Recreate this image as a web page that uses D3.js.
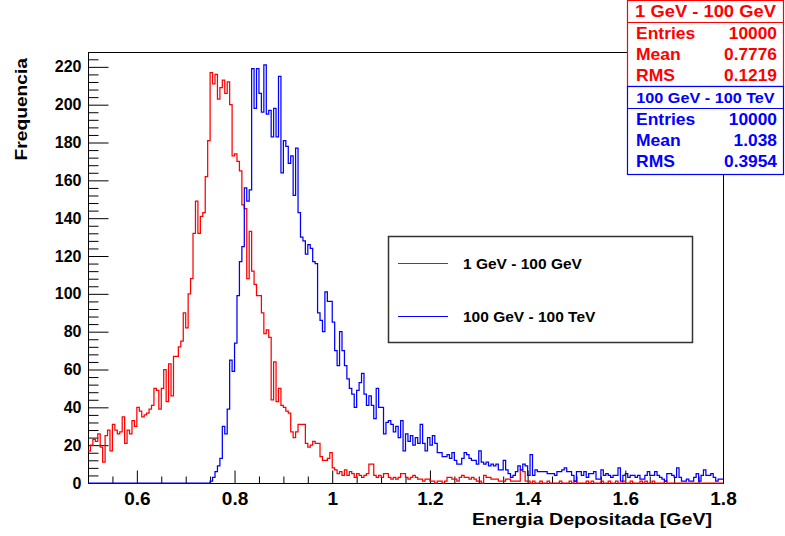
<!DOCTYPE html>
<html>
<head>
<meta charset="utf-8">
<script src="https://cdn.jsdelivr.net/npm/d3@7"></script>
<style>
  html, body { margin: 0; padding: 0; background: #fff; }
  svg { display: block; font-family: "Liberation Sans", Arial, Helvetica, sans-serif; font-weight: bold; }
</style>
</head>
<body>
<svg id="chart" width="785" height="536"></svg>
<script>
// Histogram binning: 260 bins of 0.005 GeV between 0.5 and 1.8 GeV
const xRange = [0.5, 1.8];
const binWidth = 0.005;
const yMax = 227.85;

const xTickValues = [0.6, 0.8, 1.0, 1.2, 1.4, 1.6, 1.8];
const xTickLabels = ["0.6", "0.8", "1", "1.2", "1.4", "1.6", "1.8"];
const yTickValues = [0, 20, 40, 60, 80, 100, 120, 140, 160, 180, 200, 220];

const seriesNames = ["1 GeV - 100 GeV", "100 GeV - 100 TeV"];
const seriesColors = ["#ff0000", "#0000ff"];

// Counts per bin, 1 GeV - 100 GeV sample
const redCounts = [
  17,20,23,22,26,19,11,25,28,17,31,28,26,27,35,21,28,26,33,30,
  40,38,35,36,37,39,41,50,49,39,50,60,43,63,46,67,67,72,75,90,
  82,100,108,132,149,132,141,143,162,181,217,211,216,203,209,213,206,212,200,173,
  174,170,165,147,145,108,133,112,105,99,99,90,79,81,77,44,64,43,50,41,
  40,38,37,27,24,27,31,31,31,21,19,20,22,21,21,14,12,12,13,16,
  8,7,5,6,4,7,4,6,5,3,5,4,3,4,5,10,10,4,3,4,
  3,5,5,3,2,3,2,3,5,5,3,2,3,4,3,2,2,1,2,2,
  1,1,0,1,1,0,1,3,3,2,2,1,3,4,3,3,2,3,2,1,
  1,0,4,3,3,2,2,2,1,1,1,2,2,1,1,1,1,7,6,1,
  1,0,1,0,0,1,0,0,1,0,0,0,0,1,0,0,0,1,0,1,
  0,0,0,0,1,0,1,0,0,0,1,0,0,1,0,0,1,0,0,1,
  0,0,1,0,0,0,1,0,1,0,0,1,0,0,0,0,1,0,0,0,
  0,0,0,0,0,0,0,0,0,0,0,0,0,0,0,0,0,0,0,0
];

// Counts per bin, 100 GeV - 100 TeV sample
const blueCounts = [
  0,0,0,0,0,0,0,0,0,0,0,0,0,0,0,0,0,0,0,0,
  0,0,0,0,0,0,0,0,0,0,0,0,0,0,0,0,0,0,0,0,
  0,0,0,0,0,0,0,0,0,0,1,3,6,9,13,30,26,39,65,59,
  74,99,117,125,156,149,155,219,198,219,206,196,221,195,197,183,198,183,215,164,
  181,178,169,173,152,177,143,130,128,121,126,124,117,116,90,86,80,101,96,96,
  85,70,62,80,70,62,55,50,47,40,49,53,58,47,41,46,41,34,50,40,
  40,26,32,33,31,27,30,24,33,17,26,22,25,20,24,21,31,21,17,24,
  20,25,21,16,16,14,14,15,13,16,12,10,10,13,16,15,13,12,12,10,
  17,11,10,11,9,10,9,10,7,7,12,7,5,3,4,6,9,7,10,9,
  4,15,4,7,6,6,6,6,5,5,5,4,6,6,7,8,6,6,4,1,
  6,6,4,6,3,5,5,6,2,2,7,4,5,4,3,4,4,8,1,4,
  5,3,4,4,3,4,2,2,4,6,4,4,6,4,3,2,1,5,5,4,
  3,8,3,1,1,2,1,1,3,5,1,4,7,4,4,5,3,1,2,2
];

const statLabels = ["Entries", "Mean", "RMS"];
const redStats = ["10000", "0.7776", "0.1219"];
const blueStats = ["10000", "1.038", "0.3954"];

const frame = { left: 88, right: 723, top: 52, bottom: 483 };

const svg = d3.select("#chart");

const x = d3.scaleLinear().domain(xRange).range([frame.left, frame.right]);
const y = d3.scaleLinear().domain([0, yMax]).range([frame.bottom, frame.top]);

// Widen a text element horizontally by a factor, keeping its anchor
function widen(sel, factor) {
  sel.each(function () {
    const w = this.getComputedTextLength();
    d3.select(this).attr("textLength", w * factor).attr("lengthAdjust", "spacingAndGlyphs");
  });
  return sel;
}

// Frame
svg.append("rect")
  .attr("x", frame.left + 0.5).attr("y", frame.top + 0.5)
  .attr("width", frame.right - frame.left).attr("height", frame.bottom - frame.top)
  .attr("fill", "none").attr("stroke", "#000").attr("stroke-width", 1);

// Y axis: major ticks with labels, minor ticks every 4 counts
const yMinor = d3.range(4, yMax, 4).filter(v => v % 20 !== 0);
const yAxis = svg.append("g").attr("transform", `translate(${frame.left + 0.5},0)`)
  .call(d3.axisLeft(y).tickValues(yTickValues).tickSizeInner(-20).tickSizeOuter(0).tickPadding(7));
yAxis.select(".domain").remove();
yAxis.selectAll("text").attr("font-size", 16).attr("font-family", "Liberation Sans, Arial, sans-serif").attr("font-weight", "bold");
const yAxisMinor = svg.append("g").attr("transform", `translate(${frame.left + 0.5},0)`)
  .call(d3.axisLeft(y).tickValues(yMinor).tickSizeInner(-10).tickSizeOuter(0).tickFormat(""));
yAxisMinor.select(".domain").remove();

// X axis: major ticks every 0.2, minor every 0.05
const xMinor = d3.range(0.55, 1.8, 0.05).filter(v => Math.abs(v / 0.2 - Math.round(v / 0.2)) > 1e-6);
const xAxis = svg.append("g").attr("transform", `translate(0,${frame.bottom + 0.5})`)
  .call(d3.axisBottom(x).tickValues(xTickValues).tickSizeInner(-13).tickSizeOuter(0).tickPadding(8)
    .tickFormat((d, i) => xTickLabels[i]));
xAxis.select(".domain").remove();
xAxis.selectAll("text").attr("font-size", 19).attr("font-family", "Liberation Sans, Arial, sans-serif").attr("font-weight", "bold");
const xAxisMinor = svg.append("g").attr("transform", `translate(0,${frame.bottom + 0.5})`)
  .call(d3.axisBottom(x).tickValues(xMinor).tickSizeInner(-7).tickSizeOuter(0).tickFormat(""));
xAxisMinor.select(".domain").remove();

// Axis titles
widen(svg.append("text")
  .attr("transform", `translate(27,58) rotate(-90)`)
  .attr("text-anchor", "end").attr("font-size", 17)
  .text("Frequencia"), 1.13);
widen(svg.append("text")
  .attr("x", 712).attr("y", 525)
  .attr("text-anchor", "end").attr("font-size", 17)
  .text("Energia Depositada [GeV]"), 1.15);

// Histogram outlines
function stepPoints(counts) {
  const pts = counts.map((c, i) => [xRange[0] + i * binWidth, c]);
  pts.push([xRange[0] + counts.length * binWidth, counts[counts.length - 1]]);
  return pts;
}
const stepLine = d3.line().x(d => x(d[0])).y(d => y(d[1])).curve(d3.curveStepAfter);

[redCounts, blueCounts].forEach((counts, i) => {
  svg.append("path")
    .attr("d", stepLine(stepPoints(counts)))
    .attr("fill", "none")
    .attr("stroke", seriesColors[i])
    .attr("stroke-width", 1.25);
});

// Legend
const legend = svg.append("g");
legend.append("rect")
  .attr("x", 388.5).attr("y", 236.5).attr("width", 304).attr("height", 106)
  .attr("fill", "#fff").attr("stroke", "#333").attr("stroke-width", 1.5);
const legendRows = [263, 316];
seriesNames.forEach((name, i) => {
  legend.append("line")
    .attr("x1", 398).attr("x2", 448)
    .attr("y1", legendRows[i] + 0.5).attr("y2", legendRows[i] + 0.5)
    .attr("stroke", seriesColors[i]).attr("stroke-width", 1.2);
  legend.append("text")
    .attr("x", 463).attr("y", legendRows[i] + 6)
    .attr("font-size", 15.5)
    .text(name);
});

// Statistics boxes
function statsBox(top, height, sepY, title, titleSize, values, color) {
  const g = svg.append("g");
  g.append("rect")
    .attr("x", 627.5).attr("y", top + 0.5).attr("width", 156).attr("height", height)
    .attr("fill", "#fff").attr("stroke", color).attr("stroke-width", 1.2);
  g.append("line")
    .attr("x1", 627.5).attr("x2", 783.5).attr("y1", sepY + 0.5).attr("y2", sepY + 0.5)
    .attr("stroke", color).attr("stroke-width", 1.2);
  widen(g.append("text")
    .attr("x", 705.5).attr("y", sepY - 5)
    .attr("text-anchor", "middle").attr("font-size", titleSize).attr("fill", color)
    .text(title), 1.08);
  statLabels.forEach((lab, j) => {
    const by = sepY + 17 + j * 21;
    widen(g.append("text").attr("x", 636).attr("y", by).attr("font-size", 16.5).attr("fill", color).text(lab), 1.06);
    widen(g.append("text").attr("x", 777).attr("y", by).attr("text-anchor", "end")
      .attr("font-size", 16.5).attr("fill", color).text(values[j]), 1.05);
  });
}
statsBox(0, 86, 22, seriesNames[0], 17, redStats, seriesColors[0]);
statsBox(86, 88, 108, seriesNames[1], 15, blueStats, seriesColors[1]);
</script>
</body>
</html>
